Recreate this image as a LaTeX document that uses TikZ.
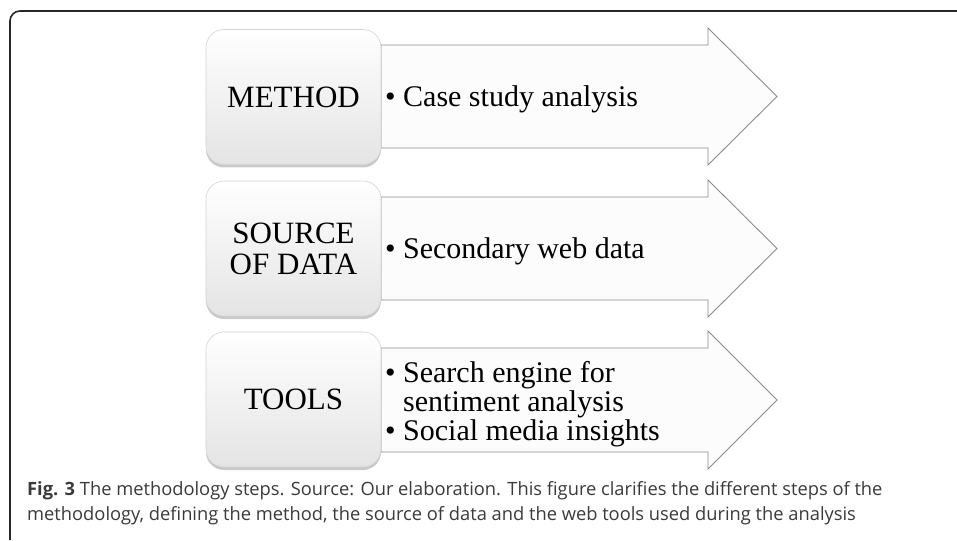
\documentclass[tikz,border=0pt]{standalone}
\usepackage{fontspec}
\setmainfont{Liberation Serif}
\newfontfamily\capfont{Open Sans}
\usetikzlibrary{shadows}
\definecolor{arrowline}{HTML}{8C8C8C}
\definecolor{arrowfill}{HTML}{FCFCFC}
\definecolor{boxline}{HTML}{D4D4D4}
\definecolor{boxbottom}{HTML}{E4E4E4}
\definecolor{captext}{HTML}{3A3A3A}
\tikzset{
  frameline/.style={line width=1.6pt, black!85, rounded corners=10pt},
  arrowshape/.style={draw=arrowline, fill=arrowfill, line width=0.9pt, line join=miter},
  stepbox/.style={draw=boxline, line width=0.6pt, rounded corners=18pt,
    minimum width=175pt, minimum height=135pt, inner sep=0pt,
    top color=white, middle color=white, bottom color=boxbottom,
    drop shadow={shadow xshift=0pt, shadow yshift=-3pt, opacity=0.35, fill=black!60},
    align=center, font=\fontsize{31}{31}\selectfont},
  bullettext/.style={anchor=base west, inner sep=0pt, align=left,
    font=\fontsize{30}{29}\selectfont},
  captionnode/.style={anchor=base west, inner sep=0pt, align=left, text=captext,
    font=\capfont\fontsize{18.3}{25}\selectfont}
}
\newcommand{\bul}{\makebox[18pt][l]{•}}
\begin{document}
\begin{tikzpicture}[x=1pt,y=-1pt]
\useasboundingbox (0,0) rectangle (957,540);
\fill[white] (0,0) rectangle (957,540);
\draw[frameline] (10,540) -- (10,11) -- (957,11);

% arrows
\draw[arrowshape] (381,45) -- (708,45) -- (708,28) -- (777,96.5) -- (708,165) -- (708,148) -- (381,148) -- cycle;
\draw[arrowshape] (381,197) -- (708,197) -- (708,180) -- (777,248.5) -- (708,317) -- (708,300) -- (381,300) -- cycle;
\draw[arrowshape] (381,348) -- (708,348) -- (708,331) -- (777,400) -- (708,469) -- (708,452) -- (381,452) -- cycle;

% boxes
\node[stepbox] (method) at (293.5,97) {METHOD};
\node[stepbox] (source) at (293.5,248.5) {SOURCE\\OF DATA};
\node[stepbox] (tools) at (293.5,399.5) {TOOLS};

% arrow texts
\node[bullettext] (t1) at (385,107) {\bul Case study analysis};
\node[bullettext] (t2) at (385,258.5) {\bul Secondary web data};
\node[bullettext] (t3) at (385,440) {\bul Search engine for\\\hspace*{18pt}sentiment analysis\\\bul Social media insights};

% caption
\node[captionnode] (cap) at (27,520) {{\bfseries Fig. 3} The methodology steps. Source: Our elaboration. This figure clarifies the different steps of the\\methodology, defining the method, the source of data and the web tools used during the analysis};
\end{tikzpicture}
\end{document}
